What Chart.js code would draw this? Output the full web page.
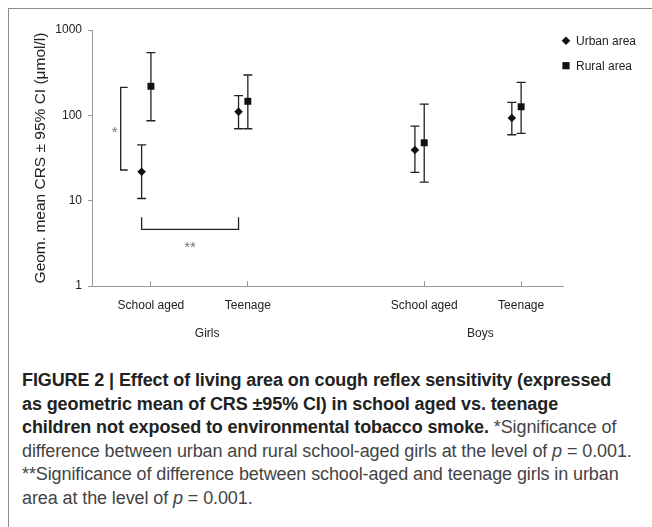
<!DOCTYPE html>
<html>
<head>
<meta charset="utf-8">
<script src="https://cdn.jsdelivr.net/npm/chart.js@4/dist/chart.umd.min.js"></script>
<style>
  body { margin: 0; background: #fff; width: 652px; height: 527px; overflow: hidden; position: relative; }
  #frame { position: absolute; left: 8px; top: 8px; right: -5px; bottom: -5px; border-left: 1px solid #8c8c8c; border-top: 1px solid #8c8c8c; }
  #wrap { position: absolute; left: 9px; top: 9px; width: 643px; height: 345px; }
  #caption { position: absolute; left: 22px; top: 369px; font-family: 'Liberation Sans', Arial, sans-serif; font-size: 18px; line-height: 23.6px; color: #444; white-space: nowrap; letter-spacing: -0.1px; }
  #caption b { color: #222; }
</style>
</head>
<body>
<div id="frame"></div>
<div id="wrap"><canvas id="Chart1" width="643" height="345"></canvas></div>
<div id="caption"><b>FIGURE 2 | Effect of living area on cough reflex sensitivity (expressed<br>as geometric mean of CRS ±95% CI) in school aged vs. teenage<br>children not exposed to environmental tobacco smoke.</b> *Significance of<br>difference between urban and rural school-aged girls at the level of <i>p</i> = 0.001.<br>**Significance of difference between school-aged and teenage girls in urban<br>area at the level of <i>p</i> = 0.001.</div>
<script>
// values (log scale, umol/l)
var categories = ["School aged", "Teenage", "School aged", "Teenage"];
var groupOf = [0, 0, 1, 1];
var groupNames = ["Girls", "Boys"];
var urbanMean = [21.8, 110, 39.2, 93];
var urbanLow = [10.6, 69.6, 21.4, 59.2];
var urbanHigh = [45, 170, 74.9, 142];
var ruralMean = [219, 146, 47.7, 126];
var ruralLow = [86.4, 69.6, 16.5, 61.5];
var ruralHigh = [543, 297, 135, 244];
var yTicks = [1, 10, 100, 1000];

var groupGap = 0.82;
var shift = 0.048;
var font = "'Liberation Sans', Arial, sans-serif";

function catPos(i) {
    return i + groupOf[i] * groupGap;
}

function points(means, dx) {
    return means.map(function (v, i) { return { x: catPos(i) + dx, y: v }; });
}

var errorBars = {
    id: 'errorBars',
    beforeDatasetsDraw: function (chart) {
        var ctx = chart.ctx, xs = chart.scales.x, ys = chart.scales.y;
        var sets = [[urbanLow, urbanHigh, -shift], [ruralLow, ruralHigh, shift]];
        ctx.save();
        ctx.strokeStyle = '#222';
        ctx.lineWidth = 1.3;
        sets.forEach(function (s) {
            s[0].forEach(function (lo, i) {
                var x = xs.getPixelForValue(catPos(i) + s[2]);
                var y1 = ys.getPixelForValue(lo), y2 = ys.getPixelForValue(s[1][i]);
                ctx.beginPath();
                ctx.moveTo(x, y1); ctx.lineTo(x, y2);
                ctx.moveTo(x - 4.5, y1); ctx.lineTo(x + 4.5, y1);
                ctx.moveTo(x - 4.5, y2); ctx.lineTo(x + 4.5, y2);
                ctx.stroke();
            });
        });
        ctx.restore();
    },
    afterDraw: function (chart) {
        var ctx = chart.ctx, xs = chart.scales.x, ys = chart.scales.y;
        ctx.save();
        // group names under the category labels
        ctx.font = '12px ' + font;
        ctx.fillStyle = '#222';
        ctx.textAlign = 'center';
        ctx.textBaseline = 'middle';
        groupNames.forEach(function (g, gi) {
            var idx = [];
            groupOf.forEach(function (v, i) { if (v === gi) idx.push(catPos(i) + shift); });
            var mid = (idx[0] + idx[idx.length - 1]) / 2 + 0.08;
            ctx.fillText(g, xs.getPixelForValue(mid), 325);
        });

        // significance brackets
        ctx.strokeStyle = '#222';
        ctx.lineWidth = 1.3;
        var bx = xs.getPixelForValue(catPos(0) - 0.264);
        var ya = ys.getPixelForValue(urbanMean[0] * 1.05), yb = ys.getPixelForValue(ruralMean[0] * 0.97);
        ctx.beginPath();
        ctx.moveTo(bx + 7, yb); ctx.lineTo(bx, yb); ctx.lineTo(bx, ya); ctx.lineTo(bx + 7, ya);
        ctx.stroke();
        var xa = xs.getPixelForValue(catPos(0) - shift), xb = xs.getPixelForValue(catPos(1) - shift);
        var yh = ys.getPixelForValue(4.6), ye = ys.getPixelForValue(6.4);
        ctx.beginPath();
        ctx.moveTo(xa, ye); ctx.lineTo(xa, yh); ctx.lineTo(xb, yh); ctx.lineTo(xb, ye);
        ctx.stroke();
        ctx.fillStyle = '#777';
        ctx.font = '15px ' + font;
        ctx.fillText('*', bx - 6, ys.getPixelForValue(Math.sqrt(urbanMean[0] * ruralMean[0])) + 4);
        ctx.fillText('**', (xa + xb) / 2, ys.getPixelForValue(3.1) + 4);

        // legend
        ctx.font = '12px ' + font;
        var items = chart.data.datasets;
        items.forEach(function (ds, k) {
            var cx = 557, cy = 31.7 + k * 25;
            ctx.fillStyle = '#111';
            ctx.beginPath();
            if (ds.pointStyle === 'rectRot') {
                ctx.moveTo(cx, cy - 4.3); ctx.lineTo(cx + 4.3, cy); ctx.lineTo(cx, cy + 4.3); ctx.lineTo(cx - 4.3, cy);
                ctx.closePath();
            } else {
                ctx.rect(cx - 3.6, cy - 3.6, 7.2, 7.2);
            }
            ctx.fill();
            ctx.fillStyle = '#222';
            ctx.textAlign = 'left';
            ctx.fillText(ds.label, cx + 10, cy + 0.5);
        });
        ctx.restore();
    }
};

function renderChart(id_chart) {
    var ctx = document.getElementById(id_chart).getContext('2d');
    var myChart = new Chart(ctx, {
        type: 'scatter',
        data: {
            datasets: [{
                label: 'Urban area',
                data: points(urbanMean, -shift),
                pointStyle: 'rectRot',
                pointRadius: 4.3,
                backgroundColor: '#111',
                borderColor: '#111',
                borderWidth: 0
            }, {
                label: 'Rural area',
                data: points(ruralMean, shift),
                pointStyle: 'rect',
                pointRadius: 4.9,
                backgroundColor: '#111',
                borderColor: '#111',
                borderWidth: 0
            }]
        },
        options: {
            responsive: false,
            animation: false,
            layout: { padding: { top: 21, right: 89, bottom: 0, left: 0 } },
            plugins: { legend: { display: false }, tooltip: { enabled: false } },
            scales: {
                x: {
                    type: 'linear',
                    min: -0.56,
                    max: 4.30,
                    afterBuildTicks: function (scale) {
                        scale.ticks = categories.map(function (c, i) { return { value: catPos(i) + shift }; });
                    },
                    afterFit: function (scale) { scale.height = 68; },
                    ticks: {
                        autoSkip: false,
                        maxRotation: 0,
                        padding: 17,
                        color: '#222',
                        font: { size: 12, family: font },
                        callback: function (value, index) { return categories[index]; }
                    },
                    grid: { drawOnChartArea: false, tickLength: -5, color: '#999' },
                    border: { color: '#999' }
                },
                y: {
                    type: 'logarithmic',
                    min: 1,
                    max: 1000,
                    afterBuildTicks: function (scale) {
                        scale.ticks = yTicks.map(function (v) { return { value: v }; });
                    },
                    afterFit: function (scale) { scale.width = 83; },
                    ticks: {
                        padding: 6,
                        color: '#222',
                        font: { size: 12, family: font },
                        callback: function (value) { return String(value); }
                    },
                    grid: { drawOnChartArea: false, tickLength: 4, color: '#999' },
                    border: { color: '#999' },
                    title: {
                        display: true,
                        text: 'Geom. mean CRS ± 95% CI (μmol/l)',
                        color: '#222',
                        font: { size: 15.5, family: font },
                        padding: { top: 22, bottom: 0 }
                    }
                }
            }
        },
        plugins: [errorBars]
    });
    return myChart;
}

renderChart("Chart1");
</script>
</body>
</html>
